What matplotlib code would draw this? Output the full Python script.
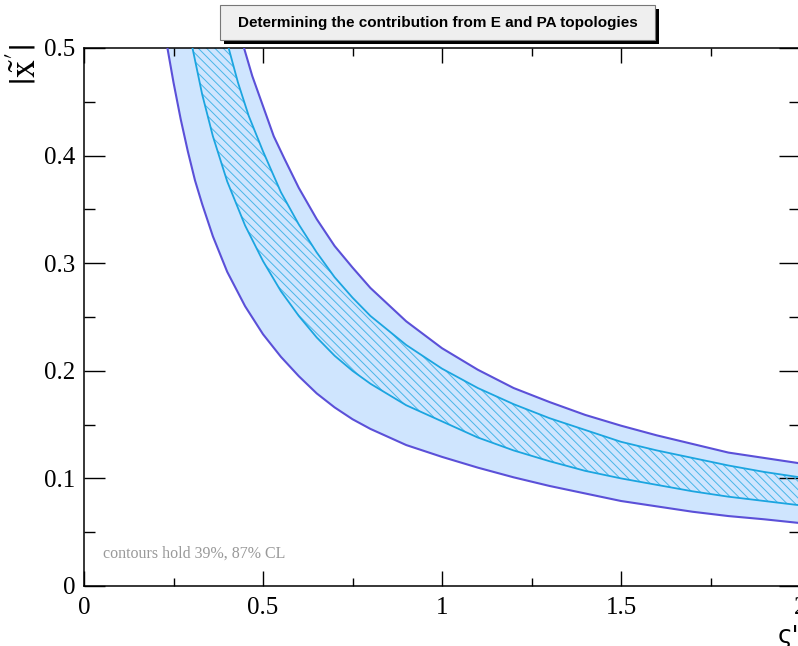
import matplotlib
matplotlib.use('Agg')
import matplotlib.pyplot as plt
from matplotlib.patches import Rectangle
from matplotlib.ticker import MultipleLocator

# ---- data ----
outer_low_x = [0.215, 0.233, 0.25, 0.27, 0.29, 0.31, 0.33, 0.36, 0.4, 0.45, 0.5, 0.55, 0.6, 0.65, 0.7, 0.75, 0.8, 0.9, 1.0, 1.1, 1.2, 1.3, 1.4, 1.5, 1.6, 1.7, 1.8, 1.9, 2.0]
outer_low_y = [0.542, 0.500, 0.468, 0.434, 0.404, 0.377, 0.355, 0.325, 0.292, 0.260, 0.234, 0.213, 0.195, 0.179, 0.166, 0.155, 0.146, 0.131, 0.120, 0.110, 0.101, 0.093, 0.086, 0.079, 0.074, 0.069, 0.065, 0.062, 0.0585]

outer_up_x = [0.42, 0.447, 0.47, 0.5, 0.53, 0.56, 0.6, 0.65, 0.7, 0.75, 0.8, 0.9, 1.0, 1.1, 1.2, 1.3, 1.4, 1.5, 1.6, 1.7, 1.8, 1.9, 2.0]
outer_up_y = [0.528, 0.500, 0.474, 0.446, 0.418, 0.397, 0.370, 0.341, 0.316, 0.296, 0.277, 0.246, 0.221, 0.201, 0.184, 0.171, 0.159, 0.149, 0.140, 0.132, 0.124, 0.119, 0.114]

inner_low_x = [0.28, 0.303, 0.33, 0.36, 0.4, 0.45, 0.5, 0.55, 0.6, 0.65, 0.7, 0.75, 0.8, 0.9, 1.0, 1.1, 1.2, 1.3, 1.4, 1.5, 1.6, 1.7, 1.8, 1.9, 2.0]
inner_low_y = [0.540, 0.500, 0.457, 0.418, 0.376, 0.335, 0.302, 0.274, 0.251, 0.231, 0.214, 0.200, 0.188, 0.168, 0.153, 0.138, 0.126, 0.116, 0.107, 0.100, 0.094, 0.088, 0.083, 0.079, 0.075]

inner_up_x = [0.37, 0.404, 0.43, 0.46, 0.5, 0.55, 0.6, 0.65, 0.7, 0.75, 0.8, 0.9, 1.0, 1.1, 1.2, 1.3, 1.4, 1.5, 1.6, 1.7, 1.8, 1.9, 2.0]
inner_up_y = [0.545, 0.500, 0.468, 0.437, 0.404, 0.366, 0.336, 0.310, 0.287, 0.268, 0.251, 0.224, 0.202, 0.184, 0.169, 0.156, 0.145, 0.134, 0.126, 0.119, 0.112, 0.106, 0.101]

title = "Determining the contribution from E and PA topologies"
note = "contours hold 39%, 87% CL"
xlabel = "ς'"
ylabel = r"$|\tilde{\mathrm{x}}'|$"

# ---- figure ----
W, H = 798, 646
plt.rcParams['hatch.linewidth'] = 0.7
plt.rcParams['mathtext.fontset'] = 'stix'
fig = plt.figure(figsize=(W / 100, H / 100), dpi=100)
ax = fig.add_axes([84 / W, 60 / H, 716 / W, 538 / H])

outer_fill = '#cfe5fe'
outer_edge = '#5b50d8'
inner_edge = '#1ba5e0'
hatch_col = '#48b6e8'

ax.fill(outer_low_x + outer_up_x[::-1], outer_low_y + outer_up_y[::-1],
        facecolor=outer_fill, edgecolor='none', zorder=1)
ax.fill(inner_low_x + inner_up_x[::-1], inner_low_y + inner_up_y[::-1],
        facecolor='none', edgecolor=hatch_col, hatch='\\\\\\\\', linewidth=0, zorder=2)
kw = dict(solid_joinstyle='round', solid_capstyle='round', zorder=3)
ax.plot(outer_low_x, outer_low_y, color=outer_edge, lw=1.5, **kw)
ax.plot(outer_up_x, outer_up_y, color=outer_edge, lw=1.5, **kw)
ax.plot(inner_low_x, inner_low_y, color=inner_edge, lw=1.3, **kw)
ax.plot(inner_up_x, inner_up_y, color=inner_edge, lw=1.3, **kw)

ax.set_xlim(0, 2)
ax.set_ylim(0, 0.5)
ax.xaxis.set_minor_locator(MultipleLocator(0.25))
ax.yaxis.set_minor_locator(MultipleLocator(0.05))
ax.set_xticks([0, 0.5, 1, 1.5, 2])
ax.set_xticklabels(['0', '0.5', '1', '1.5', '2'])
ax.set_yticks([0, 0.1, 0.2, 0.3, 0.4, 0.5])
ax.set_yticklabels(['0', '0.1', '0.2', '0.3', '0.4', '0.5'])

ax.tick_params(axis='x', which='major', direction='in', length=11, width=1, top=True, bottom=True, pad=8)
ax.tick_params(axis='x', which='minor', direction='in', length=6, width=1, top=True, bottom=True)
ax.tick_params(axis='y', which='major', direction='in', length=15, width=1, left=True, right=True, pad=6)
ax.tick_params(axis='y', which='minor', direction='in', length=8, width=1, left=True, right=True)
for lab in ax.get_xticklabels() + ax.get_yticklabels():
    lab.set_fontfamily('Liberation Serif')
    lab.set_fontsize(18)
for s in ax.spines.values():
    s.set_linewidth(1.1)

ax.text(0.053, 0.026, note, color='#999999', fontsize=11.5, family='Liberation Serif',
        ha='left', va='baseline', zorder=4)

# axis titles
fig.text(799 / W, 1 - 636 / H, xlabel, ha='right', va='center', fontsize=18,
         family='DejaVu Sans')
fig.text(25 / W, 1 - 64 / H, ylabel, ha='center', va='center', fontsize=26, rotation=90)

# title box with shadow
x0, y0, x1, y1 = 220, 5, 655, 40
fig.patches.append(Rectangle(((x0 + 4) / W, 1 - (y1 + 4) / H), (x1 - x0) / W, (y1 - y0) / H,
                             transform=fig.transFigure, facecolor='black', edgecolor='none', zorder=5))
fig.patches.append(Rectangle((x0 / W, 1 - y1 / H), (x1 - x0) / W, (y1 - y0) / H,
                             transform=fig.transFigure, facecolor='#efefef', edgecolor='#777777',
                             linewidth=0.8, zorder=6))
fig.text((x0 + x1) / 2 / W, 1 - 23.5 / H, title, ha='center', va='center', fontsize=11,
         fontweight='bold', family='Liberation Sans', zorder=7)

fig.savefig('out.png', dpi=100)
